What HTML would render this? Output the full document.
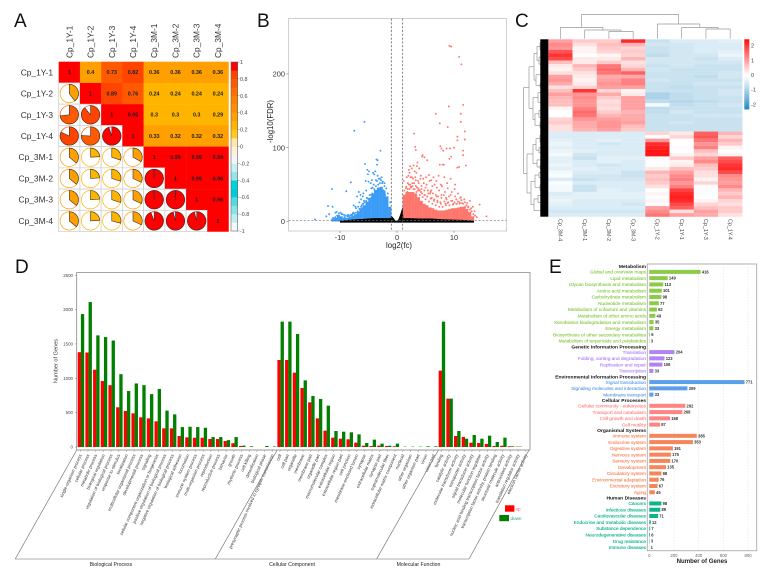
<!DOCTYPE html>
<html lang="en">
<head>
<meta charset="utf-8">
<title>Multi-panel transcriptome figure</title>
<style>
html,body{margin:0;padding:0;background:#fff;width:761px;height:570px;overflow:hidden}
svg{display:block;font-family:"Liberation Sans",sans-serif}
</style>
</head>
<body>
<svg id="fig" width="761" height="570" viewBox="0 0 761 570" xmlns="http://www.w3.org/2000/svg">
  <rect x="0" y="0" width="761" height="570" fill="#fff"/>
  <text x="14" y="27" font-size="19" fill="#111">A</text>
  <text x="257" y="27" font-size="19" fill="#111">B</text>
  <text x="515" y="27" font-size="19" fill="#111">C</text>
  <text x="15" y="273" font-size="19" fill="#111">D</text>
  <text x="549" y="273" font-size="19" fill="#111">E</text>
  <g id="a"></g>
  <g id="b"></g>
  <g id="c"></g>
  <g id="d"></g>
  <g id="e"></g>
</svg>
<script>
/* ---------- Panel A data ---------- */
const sampleNames = ["Cp_1Y-1","Cp_1Y-2","Cp_1Y-3","Cp_1Y-4","Cp_3M-1","Cp_3M-2","Cp_3M-3","Cp_3M-4"];
const correlationMatrix = [
 [1,.4,.73,.82,.36,.36,.36,.36],
 [.4,1,.89,.76,.24,.24,.24,.24],
 [.73,.89,1,.95,.3,.3,.3,.29],
 [.82,.76,.95,1,.33,.32,.32,.32],
 [.36,.24,.3,.33,1,.99,.99,.94],
 [.36,.24,.3,.32,.99,1,.99,.96],
 [.36,.24,.3,.32,.99,.99,1,.96],
 [.36,.24,.29,.32,.94,.96,.96,1]
];
const corrTicks = [1,0.8,0.6,0.4,0.2,0,-0.2,-0.4,-0.6,-0.8,-1];
const corrBands = ["#F2FAFA","#C0EEF0","#8BE3E8","#55D8E0","#00CCD8","#00D0DC","#96E3E8","#C8EEF0","#F0F7F7","#FFF0D8","#FFE5A8","#FFC81E","#FFB400","#FF9F00","#FF9100","#FF8000","#FF6E00","#FF5A00","#FF4400","#FF0000"];

/* ---------- Panel B data ---------- */
const upFc  = [9.2,9.5,10.9,11.3,11.6,9.1,6.8,11.2,11.2,7.5,8.9,11.9,3,10.6,10.6,11.9,7.6,3.2,7.8,8.7,9.3,10,3.3,8.1,11.6,4.5,9.5,9.2,11.6,4.8,4.4,5.3,3.6,7.5,8,8.2,12.1,10.9,10.6,3.5,2.9,2.3,2.1,2.6,3.1,3.4,3.9,4.2,4.6,5.1,5.6,6,6.4,6.9,7.3,7.7,8.3,8.8,9.4,10.2,2,2.4,2.8,3.2,3.7,4.1,4.7,5.2,5.7,6.2,6.6,7,7.4,7.9,8.4,8.9,9.6,10.1,10.7,11.2,1.6,1.9,2.3,2.7,3,3.5,3.8,4.3,4.8,5.4,5.9,6.3,6.8,7.2,7.8,8.2,8.7,9.1,9.7,10.4,11,11.8,12.3,12.8,13.3,14.5,15.7,1.3,1.5,1.8,2.2,2.5,2.9,3.3,3.6,4,4.4,4.9,5.3,5.8,6.1,6.5,7.1,7.6,8.5,9,9.9,10.5,11.4,12,12.5,13,13.6,
1.3,1.6,1.9,2.1,2.4,2.7,3.1,3.4,3.7,4,4.2,4.5,4.8,5,5.3,5.6,5.9,6.2,6.5,6.8,7.1,7.4,7.7,8,8.3,8.6,8.9,9.2,9.5,9.8,10.1,10.4,10.7,11,11.3,11.6,11.9,12.2,12.5,12.8,13.1,13.4,13.7,14,4.3,5.5,6,7,7.8,8.6,9.4,10.2,11.1,1.2,1.7,2.2,2.6,3.3,3.8,5];
const upLog = [238,237,223,213,158,156,146,146,135,133,128,122,119,115,110,111,102,101,99,99,99,100,97,96,96,90,88,85,90,87,88,83,80,77,77,77,76,74,73,75,76,75,70,72,68,66,72,62,58,60,63,56,60,55,62,50,60,52,58,50,62,60,58,60,55,58,52,50,55,48,50,46,42,48,40,45,40,44,38,33,45,52,50,48,52,46,44,48,42,42,40,38,36,34,32,36,30,34,28,30,26,30,25,28,20,23,7,30,36,40,44,46,44,48,46,42,38,36,34,38,32,30,28,26,24,26,24,24,25,20,20,18,14,
42,47,44,50,47,52,44,40,42,36,40,33,36,30,34,27,31,24,28,22,26,20,24,20,27,22,25,22,28,23,26,24,27,24,29,24,26,22,19,16,14,10,8,6,44,38,42,34,36,32,36,34,32,55,60,66,60,56,52,46];
const downFc  = [-5.7,-7.5,-2.9,-3.6,-3.4,-5.6,-3.5,-5.2,-4.9,-4.2,-3.8,-5.1,-4,-3.4,-2.7,-3.2,-4.4,-2.5,-5.5,-5,-4.6,-4.1,-3.7,-3,-2.2,-8.1,-11.4,-8.9,-6.7,-7,-6.4,-6,-5.4,-6.8,-7.3,-6.2,-5.8,-5.3,-4.8,-7.7,-12.1,-11.3,-10.6,-9.7,-10.2,-9.2,-9.9,-8.6,-8,-12.4,-11.9,-14.4,-10.8,-7.9,-6.5,-6.1,-5.9,-4.5,-4.3,-2.4,-2.1,-1.9,
-1.2,-1.6,-1.9,-2.2,-2.6,-3,-3.3,-3.7,-4,-4.3,-4.7,-5.1,-5.4,-5.7,-6,-6.3,-6.6,-6.9,-7.2,-7.5,-7.8,-8.1,-8.4,-8.7,-9,-9.3,-9.6,-9.9,-10.2,-10.5,-10.8,-11.2,-2.8,-3.5,-4.5,-6.3,-6.6,-7.2,-7.6,-5.9];
const downLog = [135,123,96,84,83,78,77,70,68,66,68,64,64,62,60,58,56,54,55,54,52,50,56,58,52,53,44,41,40,34,36,34,42,20,20,22,28,32,36,12,21,20,13,10,8,6,5,9,9,7,10,3,12,8,14,18,24,32,46,42,36,30,
26,38,45,48,52,52,50,48,44,38,36,31,28,26,24,20,17,14,12,11,10,9,8,7,8,9,10,12,11,8,6,5,56,55,45,30,26,18,22,38];
const upDenseFc   = [1,1.5,2,2.5,3,3.5,4,4.5,5,5.5,6,6.5,7,7.5,8,8.5,9,9.5,10,10.5,11,11.5,12,12.5,13];
const upDenseTop  = [36,40,40,40,38,33,28,24,22,19,18,16,15,15,15,16,17,18,18,19,20,20,17,13,7];
const downDenseFc = [-1,-1.5,-2,-2.5,-3,-3.5,-4,-4.5,-5,-5.5,-6,-6.5,-7,-7.5,-8,-8.5,-9,-9.5,-10,-10.5,-11];
const downDenseTop= [20,34,42,47,46,43,38,32,27,22,18,13,10,8,7,5,5,7,8,5,4];
const nsFc  = [-10,-8,-6,-4,-2,-1.1,-1,-0.75,-0.5,-0.25,0,0.25,0.5,0.75,1,1.1,2,4,6,8,10,12,13.5];
const nsTop = [1,2.5,3.5,4.5,4.5,4.5,8,6,3.5,1,0.5,3,8,14,20,4.5,4.5,4,4,3,2.5,2,1];
const volcanoXTicks = [-10,0,10];
const volcanoYTicks = [0,100,200];

/* ---------- Panel C data ---------- */
const heatColumns = ["Cp_3M-4","Cp_3M-1","Cp_3M-2","Cp_3M-3","Cp_1Y-2","Cp_1Y-1","Cp_1Y-3","Cp_1Y-4"];
const heatRows = [
[.9,.5,.5,2,-.7,-.5,-.5,-.4],[1.1,.3,.6,.7,-.6,-.6,-.5,-.5],[1,.1,.5,.4,-.7,-.6,-.5,-.5],[1.6,.1,.4,.5,-.7,-.6,-.5,-.4],[1.9,0,.1,.4,-.8,-.6,-.6,-.3],[1.7,.2,.2,.7,-.6,-.6,-.7,-.5],
[.6,.2,.5,.3,-.6,-.6,-.6,-.6],[.2,.7,1.3,.4,-.7,-.6,-.7,-.7],[.1,.5,1.4,.7,-.6,-.7,-.7,-.7],[.3,.3,1.3,1.5,-.7,-.7,-.7,-.6],[.9,.2,.8,.8,-.7,-.7,-.8,-.6],[1,.1,.9,1.2,-.6,-.7,-.7,-.7],[.8,.2,1,1.2,-.7,-.7,-.6,-.6],
[.3,.4,.9,.9,-.7,-.8,-.7,-.7],[.6,1.9,.4,.1,-.7,-.7,-.7,-.6],[.9,1,.8,.2,-1,-.8,-.7,-.6],[.7,1.1,.5,.9,-1,-.8,-.7,-.7],[.6,1,.3,.9,-.8,-.9,-.8,-.7],[.6,1,.4,.9,-.2,-.8,-.7,-.6],[.1,1.2,.3,.9,-.8,-.7,-.7,-.7],
[0,1.4,.5,.7,-.8,-.6,-.7,-.7],[0,1.3,.7,.8,-.7,-.7,-.6,-.6],[.4,1,.9,.8,-.7,-.7,-.7,-.7],[.5,.8,1,.9,-.7,-.6,-.7,-.7],[.3,.8,1,.6,-.7,-.7,-.7,-.7],[.3,.7,.9,.5,-.7,-.7,-.7,-.7],
[-.5,-.5,-.5,-.5,.4,.2,1.5,.7],[-.5,-.5,-.5,-.5,-.1,.4,1.6,.4],[-.4,-.5,-.4,-.5,1,0,1.3,.7],[-.3,-.5,-.6,-.5,2,0,1,.5],[-.4,-.5,-.5,-.5,2.1,-.1,1.2,.1],[-.3,-.4,-.5,-.5,2.2,0,.6,0],[-.2,-.6,-.5,-.5,2.2,.1,.4,.1],
[-.4,-.7,-.4,-.4,-.1,.5,.9,1.5],[-.4,-.5,-.4,-.5,-.1,.1,1.1,1.7],[-.3,-.5,-.6,-.5,-.1,.2,.6,1.9],[-.4,-.4,-.5,-.5,.2,.6,.5,2],[-.2,-.5,-.5,-.7,.7,.9,.3,1.7],[-.1,-.6,-.6,-.7,.5,1.1,.3,1.1],[-.5,-.7,-.6,-.6,.6,1.2,.1,1],
[-.1,-.5,-.5,-.5,.5,1,.4,.9],[-.2,-.7,-.5,-.5,.3,1.2,-.1,1.1],[-.2,-.7,-.4,-.5,0,1.8,-.1,.7],[-.5,-.4,-.4,-.4,.1,2,-.1,.5],[-.4,-.4,-.4,-.4,-.1,2.1,0,.7],[-.3,-.5,-.5,-.5,.1,2,.1,.4],[-.4,-.5,-.5,-.6,-.1,1.7,.4,.3],
[-.5,-.5,-.5,-.5,.9,1.5,.6,.5],[-.6,-.6,-.6,-.6,1.1,.3,.9,.5],[-.5,-.5,-.5,-.5,1.3,.9,.8,.3]
];
const heatScaleTicks = [2,1,0,-1,-2];
const columnTree = [24.3,[11.3,0,[8.7,1,[7.3,2,3]]],[14.7,4,[11.3,5,[9.7,6,7]]]];
const rowTree = [24.5,
 [19,
  [14,[11,[8,[5,0,1],[5,2,3]],[9,[6,4,5],[4,6,7]]],[12,[7,[4,8,9],[6,10,11]],[8,12,13]]],
  [15,[10,[7,14,15],[6,[3,16,17],18]],[13,[9,[5,19,20],[4,21,22]],[8,23,[5,24,25]]]]],
 [21,
  [15,[12,[8,[5,26,27],[4,28,29]],[9,30,[6,31,32]]],[11,[7,33,34],[8,35,36]]],
  [17,[13,[9,37,[5,38,39]],[8,[4,40,41],42]],[14,[10,[5,43,44],[6,45,46]],[7,47,[4,48,49]]]]]];

/* ---------- Panel D data ---------- */
const goTerms = ["single-organism process","cellular process","metabolic process","biological regulation","regulation of biological process","response to stimulus","localization","multicellular organismal process","developmental process","signaling","cellular component organization or biogenesis","positive regulation of biological process","negative regulation of biological process","biological adhesion","locomotion","immune system process","multi-organism process","reproduction","reproductive process","behavior","growth","rhythmic process","cell killing","detoxification","biological phase","presynaptic process involved in synaptic transmission",
"cell","cell part","organelle","membrane","membrane part","organelle part","macromolecular complex","extracellular region","extracellular region part","cell junction","membrane-enclosed lumen","synapse","extracellular matrix","synapse part","supramolecular fiber","extracellular matrix component","nucleoid","other organism","other organism part","virion","virion part",
"binding","catalytic activity","molecular transducer activity","transporter activity","signal transducer activity","molecular function regulator","nucleic acid binding transcription factor activity","transcription factor activity, protein binding","structural molecule activity","antioxidant activity","translation regulator activity","electron carrier activity"];
const goUp = [1380,1375,1125,960,900,578,525,490,432,417,374,272,272,160,140,135,135,116,116,87,55,15,0,0,0,0,
1267,1267,1082,859,650,417,238,136,121,112,63,19,14,19,14,10,0,0,0,0,0,
1112,704,160,146,63,58,44,14,19,10,5,0];
const goDown = [1935,2110,1625,1600,1550,1060,815,925,900,770,845,530,475,290,295,290,280,145,145,100,145,20,10,0,15,8,
1825,1825,1645,970,743,699,602,233,223,214,184,58,107,49,19,49,5,5,5,10,10,
1825,704,233,121,175,121,165,73,136,10,5,0];
const goYTicks = [0,500,1000,1500,2000,2500];
const goOntologies = ["Biological Process","Cellular Component","Molecular Function"];

/* ---------- Panel E data ---------- */
const keggLabels = ["Metabolism","Global and overview maps","Lipid metabolism","Glycan biosynthesis and metabolism","Amino acid metabolism","Carbohydrate metabolism","Nucleotide metabolism","Metabolism of cofactors and vitamins","Metabolism of other amino acids","Xenobiotics biodegradation and metabolism","Energy metabolism","Biosynthesis of other secondary metabolites","Metabolism of terpenoids and polyketides",
"Genetic Information Processing","Translation","Folding, sorting and degradation","Replication and repair","Transcription",
"Environmental Information Processing","Signal transduction","Signaling molecules and interaction","Membrane transport",
"Cellular Processes","Cellular community - eukaryotes","Transport and catabolism","Cell growth and death","Cell motility",
"Organismal Systems","Immune system","Endocrine system","Digestive system","Nervous system","Sensory system","Development","Circulatory system","Environmental adaptation","Excretory system","Aging",
"Human Diseases","Cancers","Infectious diseases","Cardiovascular diseases","Endocrine and metabolic diseases","Substance dependence","Neurodegenerative diseases","Drug resistance","Immune diseases"];
const keggCounts = [null,416,149,113,101,98,77,62,49,35,33,6,3,
null,204,123,106,33,
null,771,309,33,
null,292,268,168,87,
null,385,353,191,175,170,135,98,76,67,45,
null,98,89,71,12,7,6,3,1];
const keggTicks = [0,200,400,600,800];
const keggColors = ["#8CCB4A","#B283F2","#5B9FE8","#FF8585","#F5855A","#0DB38A"];

/* ---------- helpers ---------- */
const NS = "http://www.w3.org/2000/svg";
function mk(parent, tag, attrs, text){
  const n = document.createElementNS(NS, tag);
  for(const k in attrs) n.setAttribute(k, attrs[k]);
  if(text !== undefined) n.textContent = text;
  parent.appendChild(n);
  return n;
}
function slug(s){ return String(s).toLowerCase().replace(/[^a-z0-9]+/g,'-').replace(/^-|-$/g,''); }

/* ---------- Panel A ---------- */
(function(){
  const g = document.getElementById('a');
  const X0=58.7, Y0=61.7, S=21.23;
  const corrColor = v => corrBands[Math.min(19,Math.max(0,Math.ceil((v+1)*10)-1))];
  correlationMatrix.forEach((row,r)=>{
    row.forEach((v,c)=>{
      const cx=X0+S*c, cy=Y0+S*r;
      if(c>=r){
        const cell=mk(g,'rect',{x:cx,y:cy,width:S+.2,height:S+.2,fill:corrColor(v)});
        
        
        const t=mk(g,'text',{x:cx+S/2,y:cy+S/2+1.9,'font-size':5.4,'font-weight':'bold','text-anchor':'middle',fill:'#222'},String(v));
        
        
      } else {
        const cell=mk(g,'rect',{x:cx,y:cy,width:S,height:S,fill:'#fff',stroke:'#ccc','stroke-width':.7});
        
        
        const R=9.2, mx=cx+S/2, my=cy+S/2, col=corrColor(v);
        const ring=mk(g,'circle',{cx:mx,cy:my,r:R,fill:'#fff',stroke:col,'stroke-width':.7});
        
        
        const ang=2*Math.PI*Math.min(v,.995);
        const ex=mx+R*Math.sin(ang), ey=my-R*Math.cos(ang);
        const p=mk(g,'path',{d:`M${mx} ${my}L${mx} ${my-R}A${R} ${R} 0 ${v>.5?1:0} 1 ${ex} ${ey}Z`,fill:col,stroke:'#333','stroke-width':.6});
        
        
      }
    });
  });
  sampleNames.forEach((n,i)=>{
    const rl=mk(g,'text',{x:53,y:Y0+S*i+S/2+3,'font-size':8.4,'text-anchor':'end',fill:'#333'},n);
    
    
    const cxx=X0+S*i+S/2+3;
    const cl=mk(g,'text',{x:cxx,y:58,'font-size':8.4,fill:'#333',transform:`rotate(-90 ${cxx} 58)`},n);
    
    
  });
  const by=v=>231-(v+1)/2*169;
  corrBands.forEach((col,i)=>{
    const lo=-1+i*.1;
    const b=mk(g,'rect',{x:231,y:by(lo+.1),width:6.7,height:169/20+.2,fill:col});
    
    
  });
  const fr=mk(g,'rect',{x:231,y:62,width:6.7,height:169,fill:'none',stroke:'#666','stroke-width':.6});
  
  
  corrTicks.forEach(v=>{
    const tk=mk(g,'line',{x1:237.7,x2:239.5,y1:by(v),y2:by(v),stroke:'#666','stroke-width':.5});
    
    
    const t=mk(g,'text',{x:240,y:by(v)+2,'font-size':5.4,fill:'#444'},String(v));
    
    
  });
})();

/* ---------- Panel B ---------- */
(function(){
  const g=document.getElementById('b');
  const x=v=>397+v*5.7, y=v=>221.5-v*0.738;
  const box=mk(g,'rect',{x:288.5,y:18.5,width:218,height:212.5,fill:'#fff',stroke:'#ccc','stroke-width':.9});
  
  
  upDenseFc.forEach((f,i)=>{
    const r=mk(g,'rect',{x:x(f),y:y(upDenseTop[i]),width:3,height:y(0)-y(upDenseTop[i]),fill:'#FF766D'});
    
    
  });
  downDenseFc.forEach((f,i)=>{
    const r=mk(g,'rect',{x:x(f)-3,y:y(downDenseTop[i]),width:3,height:y(0)-y(downDenseTop[i]),fill:'#3B9CF5'});
    
    
  });
  upFc.forEach((f,i)=>{
    const c=mk(g,'circle',{cx:x(f),cy:y(upLog[i]),r:.95,fill:'#FF766D'});
    
    
  });
  downFc.forEach((f,i)=>{
    const c=mk(g,'circle',{cx:x(f),cy:y(downLog[i]),r:.95,fill:'#3B9CF5'});
    
    
  });
  let nsPath='';
  nsFc.forEach((f,i)=>{ nsPath+=(i?'L':'M')+x(f)+' '+y(nsTop[i]); });
  nsPath+='L'+x(nsFc[nsFc.length-1])+' '+y(-1.5)+'L'+x(nsFc[0])+' '+y(-1.5)+'Z';
  const ns=mk(g,'path',{d:nsPath,fill:'#000'});
  
  
  [-1,1].forEach(v=>{
    const l=mk(g,'line',{x1:x(v),x2:x(v),y1:18.5,y2:231,stroke:'#555','stroke-width':.7,'stroke-dasharray':'2.2 1.6'});
    
    
  });
  const hl=mk(g,'line',{x1:288.5,x2:506.5,y1:y(1.3),y2:y(1.3),stroke:'#777','stroke-width':.7,'stroke-dasharray':'2.2 1.6'});
  
  
  volcanoYTicks.forEach(v=>{
    const t=mk(g,'text',{x:285,y:y(v)+2.6,'font-size':7.4,'text-anchor':'end',fill:'#333'},String(v));
    
    
    const k=mk(g,'line',{x1:286.5,x2:288.5,y1:y(v),y2:y(v),stroke:'#555','stroke-width':.5});
    
    
  });
  volcanoXTicks.forEach(v=>{
    const t=mk(g,'text',{x:x(v),y:240,'font-size':7.4,'text-anchor':'middle',fill:'#333'},String(v));
    
    
    const k=mk(g,'line',{x1:x(v),x2:x(v),y1:231,y2:233,stroke:'#555','stroke-width':.5});
    
    
  });
  const xt=mk(g,'text',{x:399,y:248,'font-size':7.8,'text-anchor':'middle',fill:'#222'},'log2(fc)');
  
  
  const yt=mk(g,'text',{x:273,y:121.5,'font-size':7.8,'text-anchor':'middle',fill:'#222',transform:'rotate(-90 273 121.5)'},'-log10(FDR)');
  
  
})();

/* ---------- Panel C ---------- */
(function(){
  const g=document.getElementById('c');
  const X0=548.3,Y0=39.3,CW=24.25,RH=177.4/heatRows.length;
  function heatColor(v){
    const t=Math.min(1,Math.abs(v)/2.4);
    if(v>=0){const c=Math.round(255*(1-t));return `rgb(255,${c},${c})`;}
    const s=Math.pow(t,1.2);
    return `rgb(${Math.round(255-240*s)},${Math.round(255-128*s)},${Math.round(255-67*s)})`;
  }
  heatRows.forEach((row,r)=>{
    row.forEach((v,c)=>{
      const cell=mk(g,'rect',{x:X0+c*CW,y:Y0+r*RH,width:CW+.1,height:RH+.1,fill:heatColor(v)});
      
      
    });
  });
  heatColumns.forEach((n,i)=>{
    const cx=X0+CW*(i+.5)-1.8;
    const t=mk(g,'text',{x:cx,y:219,'font-size':5.4,fill:'#444',transform:`rotate(90 ${cx} 219)`},n);
    
    
  });
  function drawTree(node,posOfLeaf,toLine,name){
    if(typeof node==='number') return {pos:posOfLeaf(node),h:0};
    const a=drawTree(node[1],posOfLeaf,toLine,name), b=drawTree(node[2],posOfLeaf,toLine,name), h=node[0];
    [[a.pos,a.h,h,a.pos,h],[b.pos,b.h,h,b.pos,h]].forEach(s=>{
      const l=toLine(s[0],s[1],s[3],s[4]);
      
      
    });
    const l=toLine(a.pos,h,b.pos,h);
    
    
    return {pos:(a.pos+b.pos)/2,h:h};
  }
  drawTree(columnTree,i=>X0+CW*(i+.5),(p1,h1,p2,h2)=>mk(g,'line',{x1:p1,x2:p2,y1:38.7-h1,y2:38.7-h2,stroke:'#999','stroke-width':.7}),'column-dendrogram-branch');
  drawTree(rowTree,i=>Y0+RH*(i+.5),(p1,h1,p2,h2)=>mk(g,'line',{y1:p1,y2:p2,x1:548-h1,x2:548-h2,stroke:'#888','stroke-width':.6}),'row-dendrogram-branch');
  const leaves=mk(g,'rect',{x:540.3,y:Y0,width:8,height:177.4,fill:'#000'});
  
  
  const sy=v=>75-v*14.65;
  for(let k=0;k<70;k++){
    const v=2.39-k*(4.78/70);
    const s=mk(g,'rect',{x:744.3,y:39.3+k,width:5,height:1.1,fill:heatColor(v)});
    
    
  }
  heatScaleTicks.forEach(v=>{
    const t=mk(g,'text',{x:751,y:sy(v)+2,'font-size':5.6,fill:'#444'},String(v));
    
    
  });
})();

/* ---------- Panel D ---------- */
(function(){
  const g=document.getElementById('d');
  const base=447, y=v=>base-v*0.0687, left=i=>77.7+i*7.68;
  const fr=mk(g,'path',{d:'M76.7 450V272.5H530V450',fill:'none',stroke:'#888','stroke-width':.8});
  
  
  const ax=mk(g,'line',{x1:76.7,x2:530,y1:450,y2:450,stroke:'#777','stroke-width':.7});
  
  
  goYTicks.forEach(v=>{
    const t=mk(g,'text',{x:73,y:y(v)+1.5,'font-size':4.4,'text-anchor':'end',fill:'#444'},String(v));
    
    
    const k=mk(g,'line',{x1:75,x2:76.7,y1:y(v),y2:y(v),stroke:'#777','stroke-width':.5});
    
    
  });
  const yt=mk(g,'text',{x:57.5,y:361,'font-size':5.6,'text-anchor':'middle',fill:'#333',transform:'rotate(-90 57.5 361)'},'Number of Genes');
  
  
  goTerms.forEach((n,i)=>{
    const l=left(i);
    const r=mk(g,'rect',{x:l,y:y(goUp[i]),width:3.3,height:base-y(goUp[i]),fill:'#FF0000'});
    
    
    const gr=mk(g,'rect',{x:l+3.2,y:y(goDown[i]),width:3.3,height:base-y(goDown[i]),fill:'#008000'});
    
    
    const tx=l+4.2;
    const t=mk(g,'text',{x:tx,y:455,'font-size':4.35,'text-anchor':'end',fill:'#333',transform:`rotate(-65.7 ${tx} 455)`},n);
    
    
    const k=mk(g,'line',{x1:l+3.2,x2:l+2.2,y1:450,y2:452,stroke:'#777','stroke-width':.4});
    
    
  });
  const lines=[[76.7,450,15.2,559],[277.2,450,215.3,559],[438.5,450,376.6,559],[529,450,469,559],[15.2,559,469,559]];
  lines.forEach(s=>{
    const l=mk(g,'line',{x1:s[0],y1:s[1],x2:s[2],y2:s[3],stroke:'#666','stroke-width':.6});
    
    
  });
  [111,292,418.5].forEach((cx,i)=>{
    const t=mk(g,'text',{x:cx,y:566,'font-size':5.2,'text-anchor':'middle',fill:'#222'},goOntologies[i]);
    
    
  });
  const lu=mk(g,'rect',{x:505,y:505.3,width:9.4,height:6.4,fill:'#FF0000'});
  
  
  const lut=mk(g,'text',{x:515.5,y:510.5,'font-size':4.6,fill:'#F06060'},'up');
  
  
  const ld=mk(g,'rect',{x:499.3,y:515,width:9.7,height:6.2,fill:'#008000'});
  
  
  const ldt=mk(g,'text',{x:510.5,y:520,'font-size':4.6,fill:'#30A070'},'down');
  
  
})();

/* ---------- Panel E ---------- */
(function(){
  const g=document.getElementById('e');
  const x=v=>649.3+v*0.1235;
  const fr=mk(g,'rect',{x:647.3,y:264,width:109.4,height:286.7,fill:'#fff',stroke:'#aaa','stroke-width':.9});
  
  
  keggTicks.forEach(v=>{
    const l=mk(g,'line',{x1:x(v),x2:x(v),y1:264,y2:550.7,stroke:'#ddd','stroke-width':.5,'stroke-dasharray':'1.5 1.5'});
    
    
    const t=mk(g,'text',{x:x(v),y:557,'font-size':4.3,'text-anchor':'middle',fill:'#666'},String(v));
    
    
  });
  let yy=266.3, grp=-1;
  keggLabels.forEach((n,i)=>{
    const header=keggCounts[i]===null;
    if(i>0){ yy+= (header||keggCounts[i-1]===null)?5.6:6.27; }
    if(header){
      grp++;
      const h=mk(g,'text',{x:646,y:yy+1.8,'font-size':4.95,'font-weight':'bold','text-anchor':'end',fill:'#111'},n);
      
      
      return;
    }
    const col=keggColors[grp];
    const t=mk(g,'text',{x:646,y:yy+1.7,'font-size':4.75,'text-anchor':'end',fill:col,stroke:col,'stroke-width':.12},n);
    
    
    const v=keggCounts[i];
    const b=mk(g,'rect',{x:x(0),y:yy-2,width:x(v)-x(0),height:4,fill:col});
    
    
    const c=mk(g,'text',{x:x(v)+1.2,y:yy+1.5,'font-size':4.1,'font-weight':'bold',fill:'#333'},String(v));
    
    
  });
  const tt=mk(g,'text',{x:702,y:563,'font-size':6.1,'font-weight':'bold','text-anchor':'middle',fill:'#222'},'Number of Genes');
  
  
})();
</script>
</body>
</html>
